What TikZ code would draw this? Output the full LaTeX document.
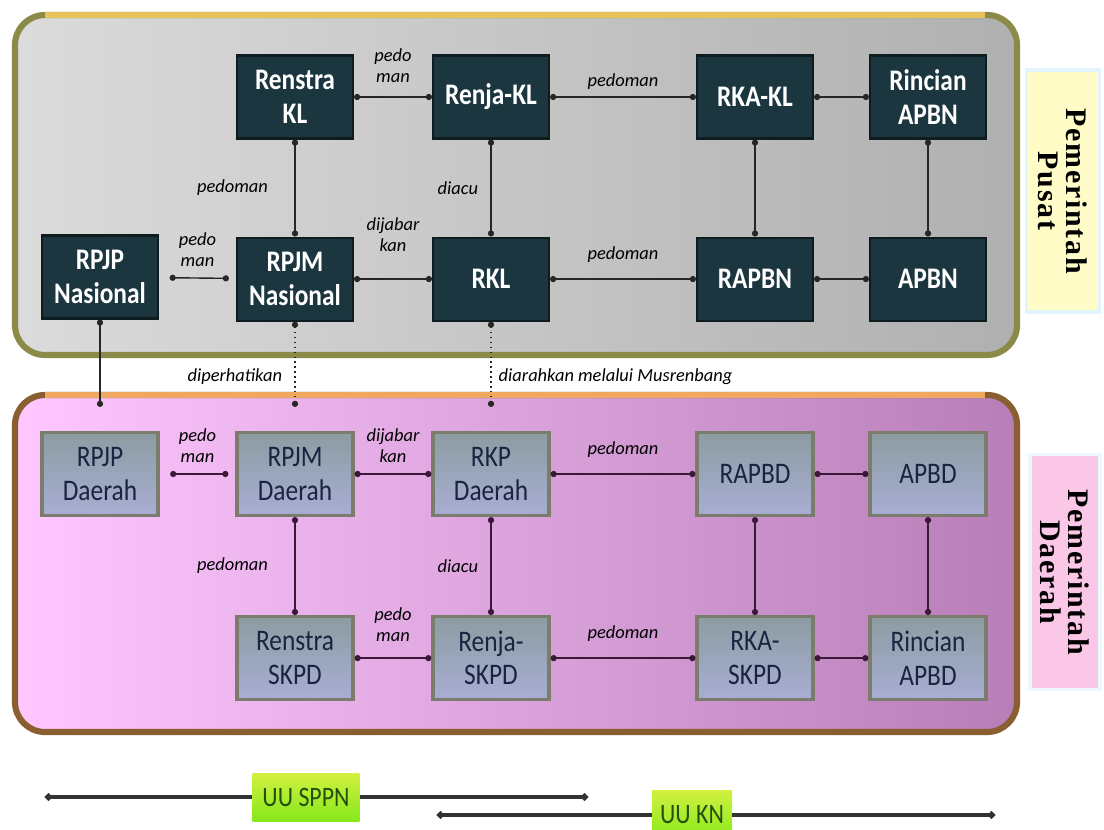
\documentclass[tikz,border=0pt]{standalone}
\usepackage{fontspec}
\setmainfont{Carlito}
\newfontfamily\boxfont[FakeStretch=0.85]{Carlito}
\newfontfamily\sidefont[LetterSpace=6]{Liberation Serif}
\usetikzlibrary{arrows.meta, positioning, calc}
\definecolor{pusatfill}{HTML}{1C3640}
\definecolor{pusatline}{HTML}{0E1C20}
\definecolor{pusatrim}{HTML}{8B8A48}
\definecolor{pusatgold}{HTML}{E8C25A}
\definecolor{daerahrim}{HTML}{8A5E30}
\definecolor{daerahgold}{HTML}{F0A860}
\definecolor{daerahtop}{HTML}{8C9CA2}
\definecolor{daerahbot}{HTML}{A8AED4}
\definecolor{daerahline}{HTML}{7C7C6C}
\definecolor{daerahtext}{HTML}{1A2440}
\definecolor{linkpusat}{HTML}{262626}
\definecolor{linkdaerah}{HTML}{3C1838}
\definecolor{uugreen}{HTML}{86E81C}
\definecolor{uutop}{HTML}{D2F040}
\definecolor{uutext}{HTML}{24500E}

\begin{document}
\begin{tikzpicture}[x=0.02cm, y=-0.02cm,
  pbox/.style={draw=pusatline, line width=1.2pt, fill=pusatfill, text=white,
               minimum width=2.32cm, minimum height=1.66cm, align=center,
               font=\boxfont\bfseries\fontsize{17}{19}\selectfont},
  dbox/.style={draw=daerahline, line width=1.8pt, top color=daerahtop,
               bottom color=daerahbot, text=daerahtext,
               minimum width=2.32cm, minimum height=1.66cm, align=center,
               font=\boxfont\fontsize{17}{19}\selectfont},
  link/.style={{Circle[length=3.5pt]}-{Circle[length=3.5pt]}, line width=0.8pt,
               draw=linkpusat},
  dlink/.style={link, draw=linkdaerah},
  lbl/.style={font=\itshape\fontsize{10.5}{12}\selectfont, align=center,
              inner sep=1pt},
  side/.style={rotate=-90, align=center, line width=2pt,
               font=\sidefont\bfseries\fontsize{17}{16}\selectfont},
  uu/.style={top color=uutop, bottom color=uugreen, text=uutext,
             font=\boxfont\fontsize{16}{18}\selectfont},
  tl/.style={-{Circle[length=4pt]}, line width=1.8pt, draw=black!80},
]
  \useasboundingbox[fill=white] (0,0) rectangle (1104,830);

  % panels
  \draw[rounded corners=0.6cm, line width=3.5pt, draw=pusatrim,
        left color=gray!28, right color=gray!62] (15,15) rectangle (1017,355);
  \draw[line width=3pt, pusatgold] (45,15) -- (985,15);
  \draw[rounded corners=0.6cm, line width=3.5pt, draw=daerahrim,
        left color=magenta!22, right color=violet!30!magenta!35!gray!75] (15,395) rectangle (1017,732);
  \draw[line width=3pt, daerahgold] (45,395) -- (985,395);

  % Pemerintah Pusat
  \node[pbox] (renstrakl) at (295,97) {Renstra\\KL};
  \node[pbox] (renjakl) at (491,97) {Renja-KL};
  \node[pbox] (rkakl) at (755,97) {RKA-KL};
  \node[pbox] (rincianapbn) at (928,97) {Rincian\\APBN};
  \node[pbox] (rpjpnas) at (100,277) {RPJP\\Nasional};
  \node[pbox, below=1.94cm of renstrakl] (rpjmnas) {RPJM\\Nasional};
  \node[pbox, below=1.94cm of renjakl] (rkl) {RKL};
  \node[pbox, below=1.94cm of rkakl] (rapbn) {RAPBN};
  \node[pbox, below=1.94cm of rincianapbn] (apbn) {APBN};

  \draw[link] (renstrakl) -- node[lbl, above=7pt] {pedo\\man} (renjakl);
  \draw[link] (renjakl) -- node[lbl, above=3pt] {pedoman} (rkakl);
  \draw[link] (rkakl) -- (rincianapbn);
  \draw[link] (renstrakl) -- node[lbl, left=14pt] {pedoman} (rpjmnas);
  \draw[link] (renjakl) -- node[lbl, left=6pt] {diacu} (rkl);
  \draw[link] (rkakl) -- (rapbn);
  \draw[link] (rincianapbn) -- (apbn);
  \draw[link, shorten <=6pt, shorten >=4pt] (rpjpnas) -- node[lbl, above=5pt] {pedo\\man} (rpjmnas);
  \draw[link] (rpjmnas) -- node[lbl, above=14pt] {dijabar\\kan} (rkl);
  \draw[link] (rkl) -- node[lbl, above=8pt] {pedoman} (rapbn);
  \draw[link] (rapbn) -- (apbn);

  % Pemerintah Daerah
  \node[dbox] (rpjpd) at (100,474) {RPJP\\Daerah};
  \node[dbox] (rpjmd) at (295,474) {RPJM\\Daerah};
  \node[dbox] (rkpd) at (491,474) {RKP\\Daerah};
  \node[dbox] (rapbd) at (755,474) {RAPBD};
  \node[dbox] (apbd) at (928,474) {APBD};
  \node[dbox, below=1.96cm of rpjmd] (renstraskpd) {Renstra\\SKPD};
  \node[dbox, below=1.96cm of rkpd] (renjaskpd) {Renja-\\SKPD};
  \node[dbox, below=1.96cm of rapbd] (rkaskpd) {RKA-\\SKPD};
  \node[dbox, below=1.96cm of apbd] (rincianapbd) {Rincian\\APBD};

  \draw[dlink, shorten <=6pt, shorten >=4pt] (rpjpd) -- node[lbl, above=5pt] {pedo\\man} (rpjmd);
  \draw[dlink] (rpjmd) -- node[lbl, above=5pt] {dijabar\\kan} (rkpd);
  \draw[dlink] (rkpd) -- node[lbl, above=8pt] {pedoman} (rapbd);
  \draw[dlink] (rapbd) -- (apbd);
  \draw[dlink] (rpjmd) -- node[lbl, left=14pt] {pedoman} (renstraskpd);
  \draw[dlink] (rkpd) -- node[lbl, left=6pt] {diacu} (renjaskpd);
  \draw[dlink] (rapbd) -- (rkaskpd);
  \draw[dlink] (apbd) -- (rincianapbd);
  \draw[dlink] (renstraskpd) -- node[lbl, above=8pt] {pedo\\man} (renjaskpd);
  \draw[dlink] (renjaskpd) -- node[lbl, above=8pt] {pedoman} (rkaskpd);
  \draw[dlink] (rkaskpd) -- (rincianapbd);

  % pusat ke daerah
  \draw[link, shorten >=0.48cm] (rpjpnas) -- (rpjpd);
  \draw[link, dotted, shorten >=0.48cm] (rpjmnas) -- node[lbl, left=6pt] {diperhatikan} (rpjmd);
  \draw[link, dotted, shorten >=0.48cm] (rkl) -- node[lbl, right=3pt] {diarahkan melalui Musrenbang} (rkpd);

  % Labels
  \node[side, draw=cyan!12, fill=yellow!22, minimum width=4.84cm, minimum height=1.46cm]
       (pusat) at (1063,191) {Pemerintah\\Pusat};
  \node[side, draw=cyan!8, fill=magenta!22, minimum width=4.7cm, minimum height=1.4cm]
       (daerah) at (1065,572) {Pemerintah\\Daerah};

  % UU
  \coordinate (sppnkiri) at (45,797);
  \coordinate (sppnkanan) at (588,797);
  \coordinate (knkiri) at (437,815);
  \coordinate (knkanan) at (995,815);
  \node[uu, minimum width=2.14cm, minimum height=0.96cm] (uusppn) at (306,797) {UU SPPN};
  \node[uu, minimum width=1.6cm, minimum height=1cm] (uukn) at (692,815) {UU KN};
  \draw[tl] (uusppn) -- (sppnkiri);
  \draw[tl] (uusppn) -- (sppnkanan);
  \draw[tl] (uukn) -- (knkiri);
  \draw[tl] (uukn) -- (knkanan);
\end{tikzpicture}
\end{document}
